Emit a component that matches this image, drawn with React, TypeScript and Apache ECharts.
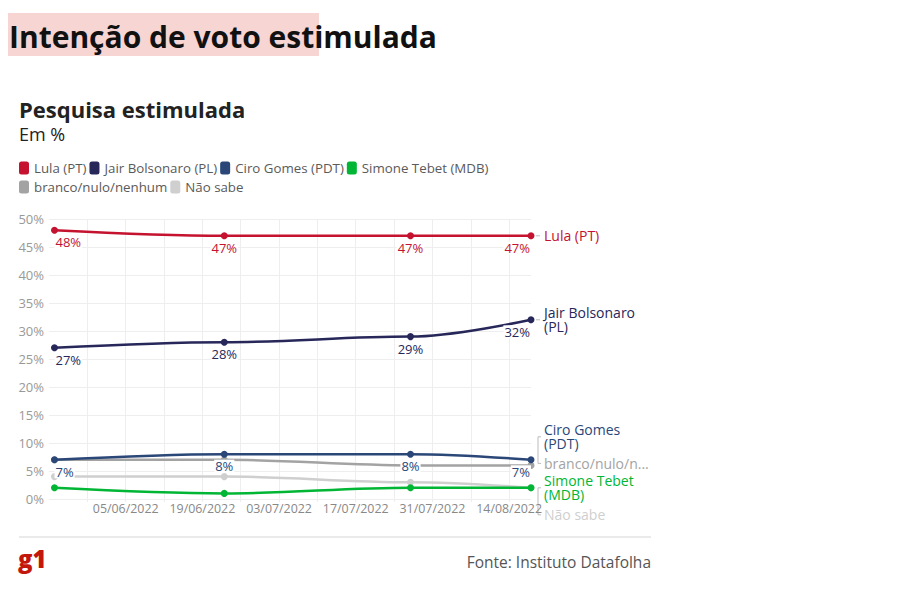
import React, { useEffect, useRef } from 'react';
import * as echarts from 'echarts';

// ---- data ----
const pollDates = ['2022-05-23', '2022-06-23', '2022-07-27', '2022-08-18'];
const lula = [48, 47, 47, 47];
const bolsonaro = [27, 28, 29, 32];
const ciro = [7, 8, 8, 7];
const tebet = [2, 1, 2, 2];
const branco = [7, 7, 6, 6];
const naoSabe = [4, 4, 3, 2];
const seriesNames = [
  'Lula (PT)',
  'Jair Bolsonaro (PL)',
  'Ciro Gomes (PDT)',
  'Simone Tebet (MDB)',
  'branco/nulo/nenhum',
  'Não sabe',
];
const endLabelTexts = [
  'Lula (PT)',
  'Jair Bolsonaro\n(PL)',
  'Ciro Gomes\n(PDT)',
  'Simone Tebet\n(MDB)',
  'branco/nulo/n...',
  'Não sabe',
];
const seriesValues = [lula, bolsonaro, ciro, tebet, branco, naoSabe];
const showValueLabels = [true, true, true, false, false, false];

// ---- styles ----
const colors = ['#c4122f', '#27275a', '#2a4778', '#00b634', '#a3a3a3', '#cfcfcf'];
const endLabelOffsets = [0, 0, -23, 0, -2, 27];
const seriesZ = [5, 5, 6, 3, 2, 2];
const FONT = 'Open Sans';

const BASE = Date.UTC(2022, 5, 5);
const DAY = 86400000;
const toDay = (s: string) => {
  const [y, m, d] = s.split('-').map(Number);
  return (Date.UTC(y, m - 1, d) - BASE) / DAY;
};
const xDays = pollDates.map(toDay);
const pad = (n: number) => (n < 10 ? '0' + n : '' + n);
const fmtDate = (v: number) => {
  const d = new Date(BASE + v * DAY);
  return pad(d.getUTCDate()) + '/' + pad(d.getUTCMonth() + 1) + '/' + d.getUTCFullYear();
};

export default function App() {
  const ref = useRef<HTMLDivElement>(null);
  useEffect(() => {
    if (!ref.current) return;
    const chart = echarts.init(ref.current, undefined, { renderer: 'svg' });
    const last = xDays.length - 1;
    const series = seriesNames.map((name, si) => ({
      name,
      type: 'line',
      z: seriesZ[si],
      smooth: 0.35,
      smoothMonotone: 'x',
      symbol: 'circle',
      symbolSize: 7,
      color: colors[si],
      lineStyle: { width: 2.5, color: colors[si] },
      itemStyle: { color: colors[si] },
      label: {
        show: showValueLabels[si],
        position: 'bottom',
        distance: 2,
        color: colors[si],
        fontSize: 13,
        fontFamily: FONT,
        backgroundColor: '#fff',
        padding: [0, 1],
        formatter: (p: any) => p.value[1] + '%',
      },
      emphasis: { disabled: true },
      data: seriesValues[si].map((v, i) => ({
        value: [xDays[i], v],
        label: i === 0 ? { align: 'left' } : i === last ? { align: 'right' } : {},
      })),
    }));

    chart.setOption({
      animation: false,
      textStyle: { fontFamily: FONT },
      grid: { left: 49, right: 369, top: 219, bottom: 112 },
      legend: {
        left: 19,
        top: 160,
        width: 500,
        padding: 0,
        itemWidth: 10,
        itemHeight: 13,
        itemGap: 3,
        icon: 'roundRect',
        selectedMode: false,
        textStyle: { fontSize: 13.3, lineHeight: 16, color: '#5a5a5a', fontFamily: FONT },
        data: seriesNames,
      },
      xAxis: {
        type: 'value',
        min: -14,
        max: 74,
        interval: 7,
        axisLine: { show: false },
        axisTick: { show: true, length: 3, lineStyle: { color: '#eee' } },
        splitLine: { show: true, showMinLine: false, showMaxLine: false, lineStyle: { color: '#eeeeee' } },
        axisLabel: {
          color: '#888',
          fontSize: 12.4,
          fontFamily: FONT,
          margin: 3,
          showMinLabel: false,
          showMaxLabel: false,
          formatter: (v: number) => (v >= 0 && v % 14 === 0 ? fmtDate(v) : ''),
        },
      },
      yAxis: {
        type: 'value',
        min: 0,
        max: 50,
        interval: 5,
        axisLine: { show: false },
        axisTick: { show: false },
        splitLine: { lineStyle: { color: '#eeeeee' } },
        axisLabel: { color: '#999', fontSize: 13, fontFamily: FONT, margin: 5, formatter: '{value}%' },
      },
      series,
    });

    const elements: any[] = [
      { type: 'rect', shape: { x: 8, y: 13, width: 311, height: 43 }, style: { fill: '#f6d5d3' }, z: 0 },
      {
        type: 'text', x: 9, y: 36, z: 1,
        style: { text: 'Intenção de voto estimulada', fill: '#111', font: `bold 30px "${FONT}"`, verticalAlign: 'middle' },
      },
      {
        type: 'text', x: 19, y: 109,
        style: { text: 'Pesquisa estimulada', fill: '#222', font: `bold 22px "${FONT}"`, verticalAlign: 'middle' },
      },
      {
        type: 'text', x: 19, y: 134,
        style: { text: 'Em %', fill: '#222', font: `18px "${FONT}"`, verticalAlign: 'middle' },
      },
      { type: 'line', shape: { x1: 19, y1: 537, x2: 651, y2: 537 }, style: { stroke: '#e3e3e3', lineWidth: 1.5 } },
      {
        type: 'text', x: 18, y: 558,
        style: { text: 'g1', fill: '#c4170c', font: `800 24px "${FONT}"`, verticalAlign: 'middle' },
      },
      {
        type: 'text', x: 651, y: 562,
        style: { text: 'Fonte: Instituto Datafolha', fill: '#555', font: `15.5px "${FONT}"`, align: 'right', verticalAlign: 'middle' },
      },
    ];

    // end labels positioned from the last data point via the chart's scales
    const labelY: number[] = [];
    let px = 0;
    seriesNames.forEach((_, si) => {
      const pt = chart.convertToPixel({ gridIndex: 0 }, [xDays[last], seriesValues[si][last]]) as number[];
      px = pt[0];
      const y = pt[1] + endLabelOffsets[si];
      labelY[si] = y;
      elements.push({
        type: 'text', x: pt[0] + 13, y, z: 10,
        style: {
          text: endLabelTexts[si], fill: colors[si], font: `14px "${FONT}"`,
          verticalAlign: 'middle', lineHeight: 14,
        },
      });
      if (si < 2) {
        elements.push({
          type: 'line', shape: { x1: pt[0] + 5, y1: pt[1], x2: pt[0] + 9, y2: pt[1] },
          style: { stroke: '#bbb', lineWidth: 1 },
        });
      }
    });
    const bracket = (a: number, b: number) => ({
      type: 'polyline',
      shape: { points: [[px + 10, labelY[a]], [px + 7, labelY[a]], [px + 7, labelY[b]], [px + 10, labelY[b]]] },
      style: { stroke: '#bbb', lineWidth: 1, fill: null },
    });
    elements.push(bracket(2, 4));
    elements.push(bracket(3, 5));

    chart.setOption({ graphic: { elements } });
    return () => chart.dispose();
  }, []);
  return <div ref={ref} style={{ position: 'absolute', left: 0, top: 0, width: 900, height: 611 }} />;
}
